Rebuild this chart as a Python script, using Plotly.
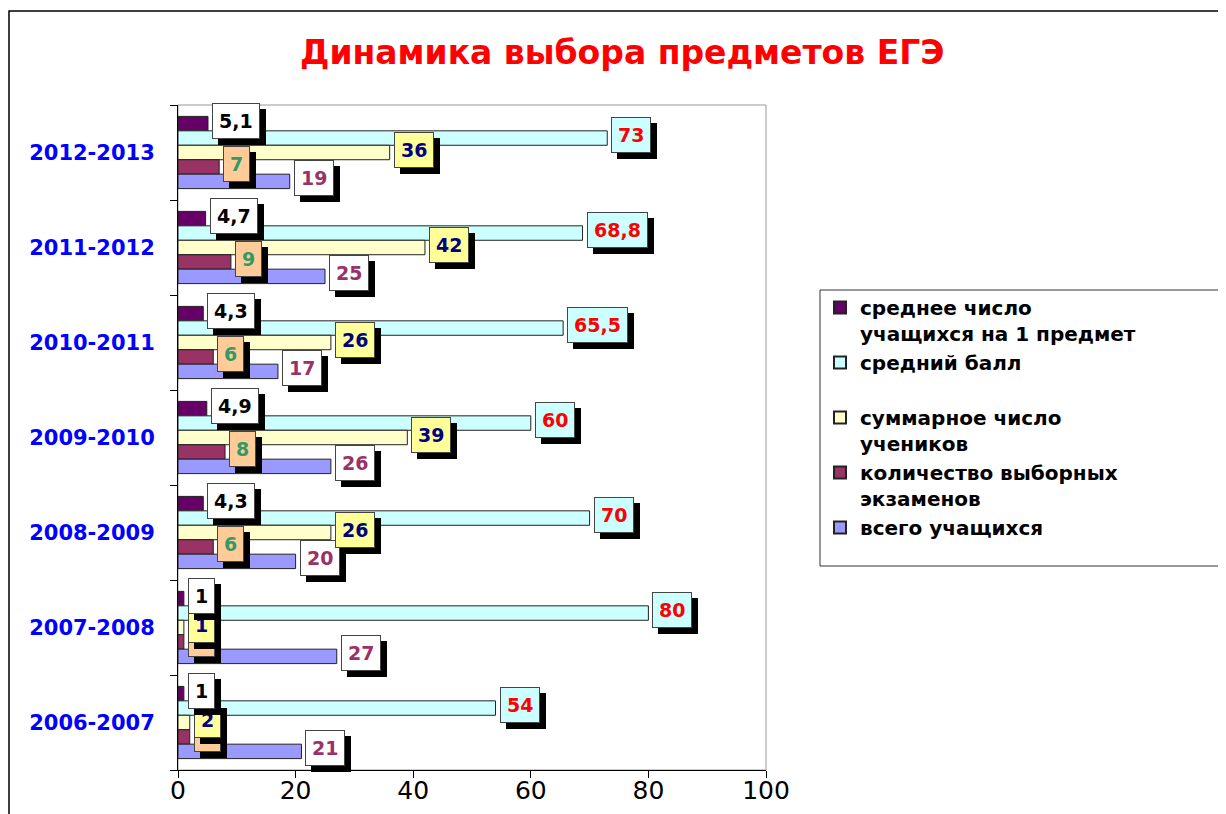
import plotly.graph_objects as go

# ---- data ----
years = ["2006-2007", "2007-2008", "2008-2009", "2009-2010", "2010-2011", "2011-2012", "2012-2013"]
series_names = [
    "среднее число<br>учащихся на 1 предмет",
    "средний балл<br> ",
    "суммарное число<br>учеников",
    "количество выборных<br>экзаменов",
    "всего учащихся",
]
avg_per_subject = [1, 1, 4.3, 4.9, 4.3, 4.7, 5.1]
avg_score = [54, 80, 70, 60, 65.5, 68.8, 73]
total_pupils_sum = [2, 1, 26, 39, 26, 42, 36]
exam_count = [2, 1, 6, 8, 6, 9, 7]
all_pupils = [21, 27, 20, 26, 17, 25, 19]
x_ticks = [0, 20, 40, 60, 80, 100]

values = [avg_per_subject, avg_score, total_pupils_sum, exam_count, all_pupils]
bar_colors = ["#660066", "#CCFFFF", "#FFFFCC", "#993366", "#9999FF"]
label_bg = ["#FFFFFF", "#CCFFFF", "#FFFF99", "#FFCC99", "#FFFFFF"]
label_fg = ["#000000", "#FF0000", "#000080", "#339966", "#993366"]

FONT = "DejaVu Sans, Verdana, sans-serif"
W = 0.152  # bar thickness in category units

# the page body has an 8px margin; work in page pixels and convert
OFF = 8
FIG_W, FIG_H = 1226 - OFF, 814 - OFF
L, R, T, B = 178 - OFF, 766 - OFF, 105 - OFF, 770 - OFF
PW, PH = R - L, B - T

def px_x(x):
    return (x - OFF - L) / PW

def px_y(y):
    return (B - (y - OFF)) / PH

fig = go.Figure()
idx = list(range(len(years)))
for k, (name, vals) in enumerate(zip(series_names, values)):
    ypos = [i + (2 - k) * W for i in idx]
    fig.add_trace(go.Bar(
        x=vals, y=ypos, orientation="h", width=W, name=name,
        marker=dict(color=bar_colors[k], line=dict(color="#222222", width=1)),
        hoverinfo="x",
    ))

def fmt(v):
    return ("%g" % v).replace(".", ",")

annotations = []
for k in reversed(range(len(values))):
    vals = values[k]
    for i in idx:
        y = i + (2 - k) * W
        txt = "<b>%s</b>" % fmt(vals[i])
        annotations.append(dict(
            x=vals[i], y=y, xref="x", yref="y", text=txt, showarrow=False,
            xanchor="left", yanchor="middle", xshift=10, yshift=-3,
            font=dict(family=FONT, size=19, color="#000000"),
            bgcolor="#000000", bordercolor="#000000", borderwidth=1, borderpad=6,
        ))
        annotations.append(dict(
            x=vals[i], y=y, xref="x", yref="y", text=txt, showarrow=False,
            xanchor="left", yanchor="middle", xshift=4, yshift=3,
            font=dict(family=FONT, size=19, color=label_fg[k]),
            bgcolor=label_bg[k], bordercolor="#444444", borderwidth=1, borderpad=6,
        ))

annotations.append(dict(
    text="<b>Динамика выбора предметов ЕГЭ</b>", xref="paper", yref="paper",
    x=px_x(622), y=px_y(52), showarrow=False,
    xanchor="center", yanchor="middle",
    font=dict(family=FONT, size=33, color="#FF0000"),
))

shapes = [
    # outer chart frame
    dict(type="rect", xref="paper", yref="paper",
         x0=px_x(9), x1=2.0, y0=-0.5, y1=px_y(11),
         line=dict(color="#000000", width=1.5), fillcolor="rgba(0,0,0,0)", layer="below"),
    # plot area border
    dict(type="rect", xref="paper", yref="paper", x0=0, x1=1, y0=0, y1=1,
         line=dict(color="#999999", width=1), fillcolor="rgba(0,0,0,0)", layer="below"),
    # legend frame
    dict(type="rect", xref="paper", yref="paper",
         x0=px_x(820), x1=px_x(1260), y0=px_y(566), y1=px_y(290),
         line=dict(color="#333333", width=1), fillcolor="#FFFFFF", layer="below"),
]

fig.update_layout(
    width=FIG_W, height=FIG_H,
    margin=dict(l=L, r=FIG_W - R, t=T, b=FIG_H - B, autoexpand=False),
    paper_bgcolor="#FFFFFF", plot_bgcolor="rgba(0,0,0,0)",
    barmode="overlay",
    showlegend=True,
    legend=dict(
        x=px_x(820), xanchor="left", y=px_y(288), yanchor="top",
        bgcolor="rgba(0,0,0,0)", borderwidth=0,
        font=dict(family=FONT, size=20, color="#000000", weight="bold"),
        valign="top", traceorder="normal", itemsizing="constant",
    ),
    xaxis=dict(
        range=[0, 100], tickvals=x_ticks, ticks="outside", ticklen=7,
        tickcolor="#000000", showline=True, linecolor="#000000", linewidth=1,
        showgrid=False, zeroline=False,
        tickfont=dict(family=FONT, size=25, color="#000000"),
        ticklabelstandoff=-9,
        fixedrange=True,
    ),
    yaxis=dict(
        range=[-0.5, len(years) - 0.5], tickvals=idx, ticktext=years,
        ticks="", showline=True, linecolor="#000000", linewidth=1,
        showgrid=False, zeroline=False, automargin=False,
        tickfont=dict(family=FONT, size=21, color="#0000FF", weight="bold"),
        ticklabelstandoff=18,
        minor=dict(tickvals=[i - 0.5 for i in idx] + [len(years) - 0.5],
                   ticks="outside", ticklen=7, tickcolor="#000000", showgrid=False),
    ),
    annotations=annotations,
    shapes=shapes,
)

fig.write_html("out.html")
